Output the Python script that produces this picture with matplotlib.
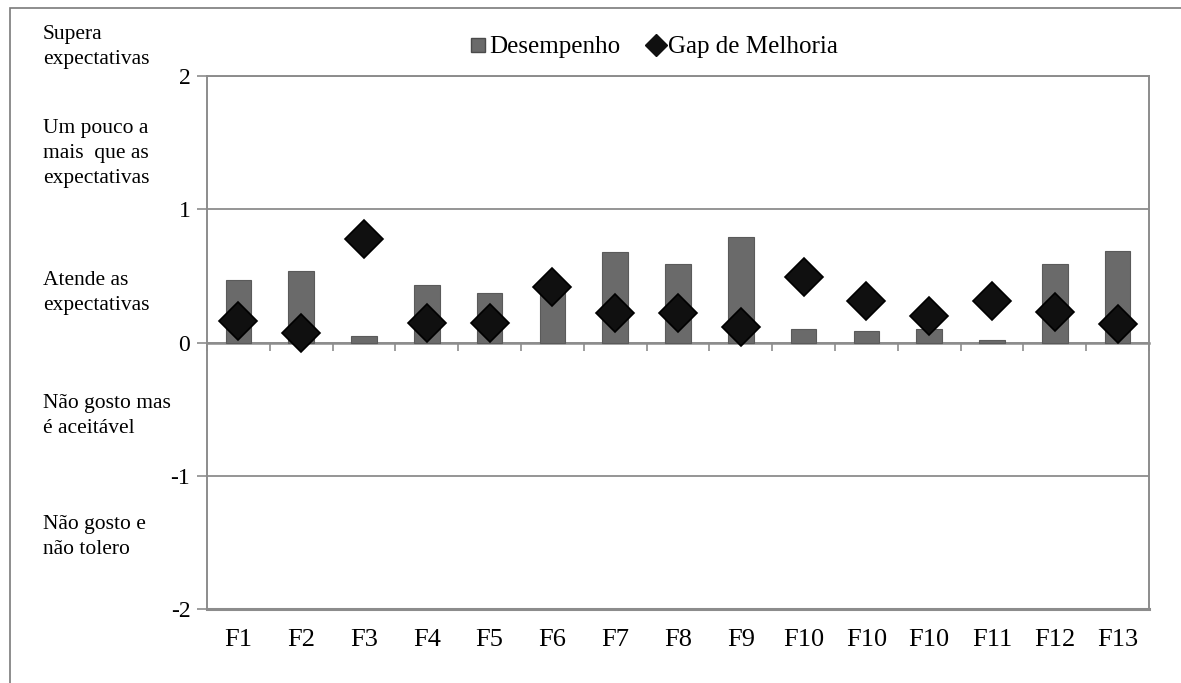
import numpy as np
import matplotlib as mpl
import matplotlib.pyplot as plt
from matplotlib.patches import Rectangle
from matplotlib.lines import Line2D
from matplotlib.transforms import blended_transform_factory

mpl.rcParams['font.family'] = ['Liberation Serif', 'DejaVu Serif']

# %% data
categories = ['F1', 'F2', 'F3', 'F4', 'F5', 'F6', 'F7', 'F8', 'F9',
              'F10', 'F10', 'F10', 'F11', 'F12', 'F13']
desempenho = [0.47, 0.54, 0.05, 0.43, 0.37, 0.40, 0.68, 0.59, 0.79,
              0.10, 0.09, 0.10, 0.02, 0.59, 0.69]
gap = [0.16, 0.07, 0.78, 0.15, 0.15, 0.42, 0.22, 0.22, 0.12,
       0.49, 0.31, 0.20, 0.31, 0.23, 0.14]
yticks = [-2, -1, 0, 1, 2]
scale_labels = ['Supera\nexpectativas',
                'Um pouco a\nmais  que as\nexpectativas',
                'Atende as\nexpectativas',
                'Não gosto mas\né aceitável',
                'Não gosto e\nnão tolero']
scale_pos = [2.22, 1.42, 0.37, -0.55, -1.46]

grey_line = '#8c8c8c'

# %% plot
fig = plt.figure(figsize=(11.81, 6.83), dpi=100)
ax = fig.add_axes([207/1181, 1 - 609/683, 942/1181, 533/683])

# outer frame of the page figure
fig.patches.append(Rectangle((10/1181, -0.2), 1.5, 1.2 - 8/683,
                             transform=fig.transFigure, fill=False,
                             edgecolor='#7a7a7a', lw=1.2))

x = np.arange(len(categories))
ax.bar(x, desempenho, width=0.41, color='#6a6a6a', edgecolor='#5a5a5a',
       lw=0.8, zorder=3)
ax.plot(x, gap, ls='none', marker='D', ms=19, color='#101010',
        mec='#000000', mew=1.2, zorder=4)

ax.set_xlim(-0.5, len(categories) - 0.5)
ax.set_ylim(-2, 2)
ax.set_yticks(yticks)
ax.set_yticklabels([str(v) for v in yticks], fontsize=17)
ax.tick_params(axis='y', direction='out', length=7, color=grey_line,
               width=1.2, pad=5)

# horizontal gridlines
for v in yticks:
    ax.axhline(v, color=grey_line, lw=1.3, zorder=1)

# category axis sits at zero
ax.spines['bottom'].set_position(('data', 0))
ax.spines['bottom'].set_color(grey_line)
ax.spines['bottom'].set_linewidth(1.8)
ax.set_xticks(np.arange(len(categories) + 1) - 0.5)
ax.set_xticklabels([])
ax.tick_params(axis='x', direction='out', length=6, color=grey_line,
               width=1.2)
for s in ['left', 'right', 'top']:
    ax.spines[s].set_color(grey_line)
    ax.spines[s].set_linewidth(1.4)
ax.axhline(-2, color=grey_line, lw=2.2, zorder=1, clip_on=False)

trans = blended_transform_factory(ax.transData, ax.transAxes)
for xi, lab in zip(x, categories):
    ax.text(xi, -0.058, lab, transform=trans, ha='center', va='center',
            fontsize=19)

# scale descriptions on the left
tl = blended_transform_factory(fig.transFigure, ax.transData)
for lab, y in zip(scale_labels, scale_pos):
    ax.text(43/1181, y, lab, transform=tl, ha='left', va='center',
            fontsize=15.5, linespacing=1.42)

handles = [Line2D([], [], ls='none', marker='s', ms=10, color='#6a6a6a',
                  mec='#4a4a4a'),
           Line2D([], [], ls='none', marker='D', ms=11, color='#101010')]
fig.legend(handles, ['Desempenho', 'Gap de Melhoria'], ncol=2,
           loc='center', bbox_to_anchor=(652/1181, 1 - 47/683),
           frameon=False, fontsize=18, handletextpad=0.0,
           columnspacing=1.0, handlelength=0.9)

fig.savefig('out.png', dpi=100)
